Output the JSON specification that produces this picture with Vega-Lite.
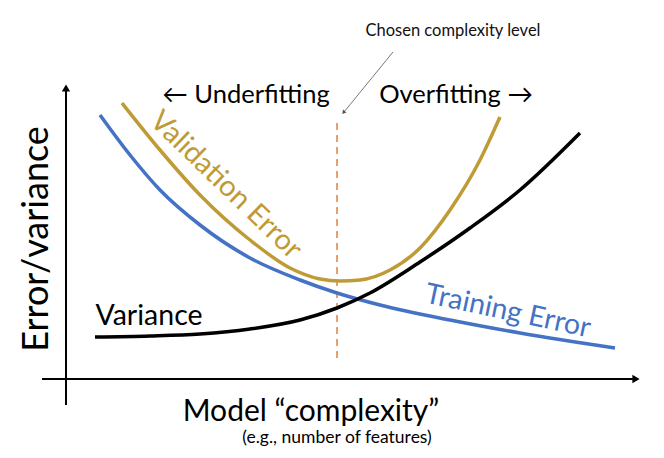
{
  "$schema": "https://vega.github.io/schema/vega-lite/v6.json",
  "width": 664,
  "height": 458,
  "autosize": {"type": "fit", "contains": "padding"},
  "padding": 0,
  "background": "white",
  "config": {"view": {"stroke": null}, "font": "Lato"},
  "datasets": {
    "curves": [
      {"series": "Training Error", "complexity": 100, "error": 343},
      {"series": "Training Error", "complexity": 130, "error": 303},
      {"series": "Training Error", "complexity": 160, "error": 268},
      {"series": "Training Error", "complexity": 200, "error": 233},
      {"series": "Training Error", "complexity": 250, "error": 200},
      {"series": "Training Error", "complexity": 300, "error": 178},
      {"series": "Training Error", "complexity": 337, "error": 165},
      {"series": "Training Error", "complexity": 380, "error": 153},
      {"series": "Training Error", "complexity": 450, "error": 138},
      {"series": "Training Error", "complexity": 520, "error": 125},
      {"series": "Training Error", "complexity": 615, "error": 110},
      {"series": "Validation Error", "complexity": 122, "error": 355},
      {"series": "Validation Error", "complexity": 160, "error": 308},
      {"series": "Validation Error", "complexity": 200, "error": 263},
      {"series": "Validation Error", "complexity": 250, "error": 218},
      {"series": "Validation Error", "complexity": 290, "error": 190},
      {"series": "Validation Error", "complexity": 320, "error": 179},
      {"series": "Validation Error", "complexity": 340, "error": 177},
      {"series": "Validation Error", "complexity": 360, "error": 178},
      {"series": "Validation Error", "complexity": 390, "error": 188},
      {"series": "Validation Error", "complexity": 420, "error": 210},
      {"series": "Validation Error", "complexity": 450, "error": 248},
      {"series": "Validation Error", "complexity": 480, "error": 298},
      {"series": "Validation Error", "complexity": 500, "error": 341},
      {"series": "Variance", "complexity": 95, "error": 121},
      {"series": "Variance", "complexity": 150, "error": 122},
      {"series": "Variance", "complexity": 200, "error": 124},
      {"series": "Variance", "complexity": 250, "error": 129},
      {"series": "Variance", "complexity": 300, "error": 138},
      {"series": "Variance", "complexity": 337, "error": 150},
      {"series": "Variance", "complexity": 370, "error": 165},
      {"series": "Variance", "complexity": 420, "error": 196},
      {"series": "Variance", "complexity": 470, "error": 230},
      {"series": "Variance", "complexity": 520, "error": 268},
      {"series": "Variance", "complexity": 580, "error": 325}
    ]
  },
  "encoding": {
    "x": {"type": "quantitative", "scale": {"domain": [0, 664]}, "axis": null},
    "y": {"type": "quantitative", "scale": {"domain": [0, 458]}, "axis": null}
  },
  "layer": [
    {
      "data": {"values": [{"x": 66, "y": 53, "y2": 368}]},
      "mark": {"type": "rule", "color": "black", "strokeWidth": 2},
      "encoding": {"x": {"field": "x"}, "y": {"field": "y"}, "y2": {"field": "y2"}}
    },
    {
      "data": {"values": [{"x": 42, "x2": 634, "y": 79}]},
      "mark": {"type": "rule", "color": "black", "strokeWidth": 2},
      "encoding": {"x": {"field": "x"}, "x2": {"field": "x2"}, "y": {"field": "y"}}
    },
    {
      "data": {"values": [{"x": 66, "y": 370}]},
      "mark": {"type": "point", "shape": "triangle-up", "filled": true, "color": "black", "size": 70, "opacity": 1},
      "encoding": {"x": {"field": "x"}, "y": {"field": "y"}}
    },
    {
      "data": {"values": [{"x": 636, "y": 79}]},
      "mark": {"type": "point", "shape": "triangle-right", "filled": true, "color": "black", "size": 70, "opacity": 1},
      "encoding": {"x": {"field": "x"}, "y": {"field": "y"}}
    },
    {
      "data": {"values": [{"x": 337, "y": 335, "y2": 98}]},
      "mark": {"type": "rule", "color": "#E0803F", "strokeWidth": 1.5, "strokeDash": [7, 5]},
      "encoding": {"x": {"field": "x"}, "y": {"field": "y"}, "y2": {"field": "y2"}}
    },
    {
      "data": {"values": [{"x": 393, "y": 406, "x2": 344, "y2": 346}]},
      "mark": {"type": "rule", "color": "#555555", "strokeWidth": 0.8},
      "encoding": {"x": {"field": "x"}, "y": {"field": "y"}, "x2": {"field": "x2"}, "y2": {"field": "y2"}}
    },
    {
      "data": {"values": [{"x": 343.5, "y": 345.5}]},
      "mark": {"type": "point", "shape": "triangle-up", "filled": true, "color": "#555555", "size": 20, "angle": 220, "opacity": 1},
      "encoding": {"x": {"field": "x"}, "y": {"field": "y"}}
    },
    {
      "data": {"name": "curves"},
      "mark": {"type": "line", "strokeWidth": 3.5, "interpolate": "monotone", "strokeCap": "butt"},
      "encoding": {
        "x": {"field": "complexity"},
        "y": {"field": "error"},
        "color": {"field": "series", "type": "nominal", "legend": null,
          "scale": {"domain": ["Training Error", "Validation Error", "Variance"], "range": ["#4472C4", "#BF9B36", "#000000"]}}
      }
    },
    {
      "data": {"values": [{"x": 453, "y": 427, "t": "Chosen complexity level"}]},
      "mark": {"type": "text", "fontSize": 16.5, "color": "#111111", "align": "center", "baseline": "middle"},
      "encoding": {"x": {"field": "x"}, "y": {"field": "y"}, "text": {"field": "t"}}
    },
    {
      "data": {"values": [{"x": 246, "y": 363, "t": "← Underfitting"}, {"x": 456, "y": 363, "t": "Overfitting →"}]},
      "mark": {"type": "text", "fontSize": 25.5, "color": "black", "align": "center", "baseline": "middle"},
      "encoding": {"x": {"field": "x"}, "y": {"field": "y"}, "text": {"field": "t"}}
    },
    {
      "data": {"values": [{"x": 37, "y": 219, "t": "Error/variance"}]},
      "mark": {"type": "text", "fontSize": 36, "color": "black", "align": "center", "baseline": "middle", "angle": 270},
      "encoding": {"x": {"field": "x"}, "y": {"field": "y"}, "text": {"field": "t"}}
    },
    {
      "data": {"values": [{"x": 311, "y": 46, "t": "Model “complexity”"}]},
      "mark": {"type": "text", "fontSize": 30, "color": "black", "align": "center", "baseline": "middle"},
      "encoding": {"x": {"field": "x"}, "y": {"field": "y"}, "text": {"field": "t"}}
    },
    {
      "data": {"values": [{"x": 337, "y": 20, "t": "(e.g., number of features)"}]},
      "mark": {"type": "text", "fontSize": 17.5, "color": "black", "align": "center", "baseline": "middle"},
      "encoding": {"x": {"field": "x"}, "y": {"field": "y"}, "text": {"field": "t"}}
    },
    {
      "data": {"values": [{"x": 226, "y": 273, "t": "Validation Error"}]},
      "mark": {"type": "text", "fontSize": 29, "color": "#BF9B36", "align": "center", "baseline": "middle", "angle": 44},
      "encoding": {"x": {"field": "x"}, "y": {"field": "y"}, "text": {"field": "t"}}
    },
    {
      "data": {"values": [{"x": 508, "y": 147, "t": "Training Error"}]},
      "mark": {"type": "text", "fontSize": 28.5, "color": "#4472C4", "align": "center", "baseline": "middle", "angle": 12},
      "encoding": {"x": {"field": "x"}, "y": {"field": "y"}, "text": {"field": "t"}}
    },
    {
      "data": {"values": [{"x": 149, "y": 142, "t": "Variance"}]},
      "mark": {"type": "text", "fontSize": 28.5, "color": "black", "align": "center", "baseline": "middle"},
      "encoding": {"x": {"field": "x"}, "y": {"field": "y"}, "text": {"field": "t"}}
    }
  ]
}
